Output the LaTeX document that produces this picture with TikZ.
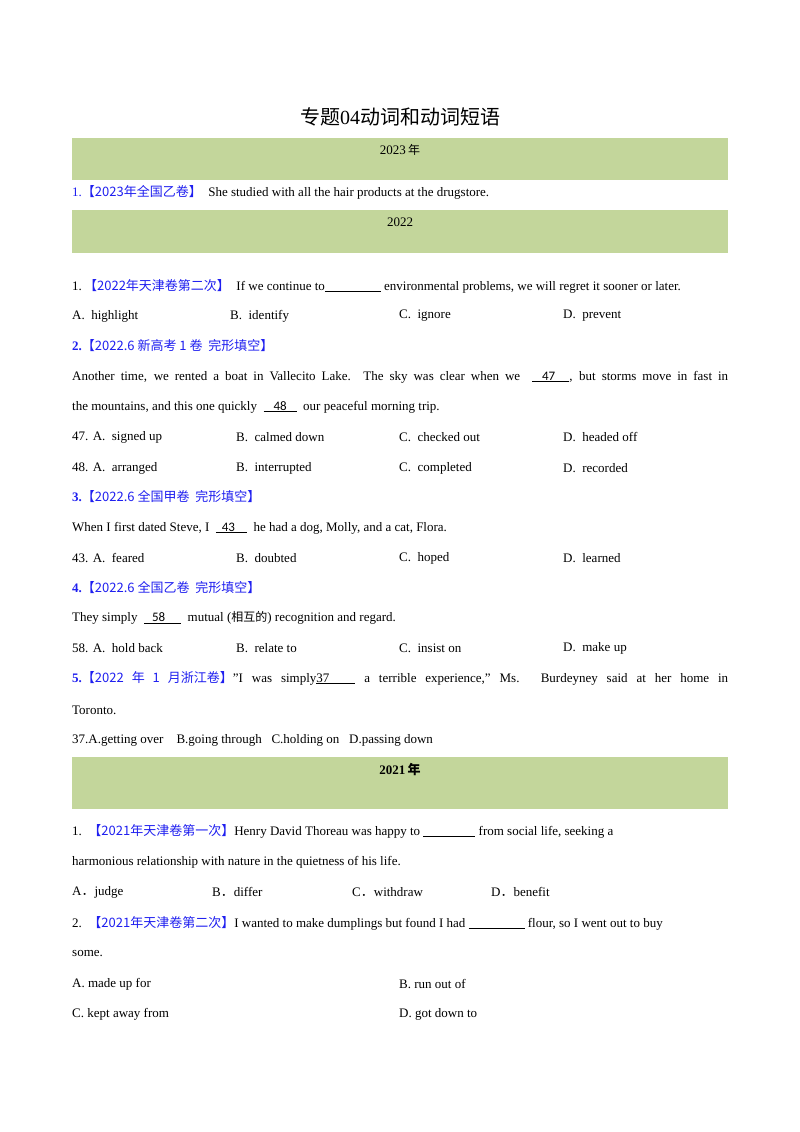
\documentclass[tikz,border=0pt]{standalone}
\usepackage{fontspec}
\setmainfont{Liberation Serif}
\newfontfamily\cjk{Noto Sans CJK SC}
\newfontfamily\calfont{Carlito}
\definecolor{bar}{HTML}{C3D69B}
\definecolor{qb}{HTML}{1F1FF0}
\newcommand{\bl}[1]{{\color{qb}#1}}
\newcommand{\ul}[1]{\underline{#1}}
\begin{document}
\begin{tikzpicture}[x=1pt,y=-1pt,
  t/.style={anchor=west,inner sep=0pt,font=\fontsize{13}{15}\selectfont},
  c/.style={inner sep=0pt,font=\fontsize{13}{15}\selectfont}]
\useasboundingbox (0,0) rectangle (800,1132);
\fill[white] (0,0) rectangle (800,1132);
\fill[bar] (72,138) rectangle (728,180);
\fill[bar] (72,210) rectangle (728,253);
\fill[bar] (72,757) rectangle (728,809);
\node[inner sep=0pt,font=\fontsize{20}{22}\selectfont] (title) at (400,117) {\cjk 专题\rmfamily 04\cjk 动词和动词短语};
\node[c] (y23) at (400,150) {2023\,\cjk\fontsize{12}{14}\selectfont 年};
\node[t] (q1) at (72,192) {\bl{1.\cjk【2023年全国乙卷】}\ \ She studied with all the hair products at the drugstore.};
\node[c] (y22) at (400,222) {2022};
\node[t] (a1) at (72,286) {1.\,{\cjk\bl{【2022年天津卷第二次】}}\ \ If we continue to\ul{\hspace{56pt}} environmental problems, we will regret it sooner or later.};
\node[t] (a1a) at (72,316) {A.\ \ highlight};
\node[t] (a1b) at (230,316) {B.\ \ identify};
\node[t] (a1c) at (399,316) {C.\ \ ignore};
\node[t] (a1d) at (563,316) {D.\ \ prevent};
\node[t] (a2) at (72,346) {\bl{\textbf{2.}\cjk【2022.6 新高考 1 卷\ \ 完形填空】}};
\node[t] (a2t) at (72,377) {\hbox to 656pt{Another time, we rented a boat in Vallecito Lake. The sky was clear when we \ \ul{\hspace{10pt}{\calfont 47}\hspace{14pt}}, but storms move in fast in}};
\node[t] (a2u) at (72,407) {the mountains, and this one quickly \ \ul{\hspace{10pt}{\calfont 48}\hspace{10pt}}\ \ our peaceful morning trip.};
\begin{scope}[every node/.append style={font=\calfont\fontsize{13}{15}\selectfont}]
\node[t] (o47a) at (72,437) {47. A.\ \ signed up};
\node[t] (o47b) at (236,437) {B.\ \ calmed down};
\node[t] (o47c) at (399,437) {C.\ \ checked out};
\node[t] (o47d) at (563,437) {D.\ \ headed off};
\node[t] (o48a) at (72,468) {48. A.\ \ arranged};
\node[t] (o48b) at (236,468) {B.\ \ interrupted};
\node[t] (o48c) at (399,468) {C.\ \ completed};
\node[t] (o48d) at (563,468) {D.\ \ recorded};
\end{scope}
\node[t] (a3) at (72,497) {\bl{\textbf{3.}\cjk【2022.6 全国甲卷\ \ 完形填空】}};
\node[t] (a3t) at (72,528) {When I first dated Steve, I \ \ul{\hspace{6pt}{\calfont 43}\hspace{12pt}}\ \ he had a dog, Molly, and a cat, Flora.};
\begin{scope}[every node/.append style={font=\calfont\fontsize{13}{15}\selectfont}]
\node[t] (o43a) at (72,558) {43. A.\ \ feared};
\node[t] (o43b) at (236,558) {B.\ \ doubted};
\node[t] (o43c) at (399,558) {C.\ \ hoped};
\node[t] (o43d) at (563,558) {D.\ \ learned};
\end{scope}
\node[t] (a4) at (72,588) {\bl{\textbf{4.}\cjk【2022.6 全国乙卷\ \ 完形填空】}};
\node[t] (a4t) at (72,618) {They simply \ \ul{\hspace{8pt}{\calfont 58}\hspace{16pt}}\ \ mutual ({\cjk\fontsize{12}{14}\selectfont 相互的}) recognition and regard.};
\begin{scope}[every node/.append style={font=\calfont\fontsize{13}{15}\selectfont}]
\node[t] (o58a) at (72,648) {58. A.\ \ hold back};
\node[t] (o58b) at (236,648) {B.\ \ relate to};
\node[t] (o58c) at (399,648) {C.\ \ insist on};
\node[t] (o58d) at (563,648) {D.\ \ make up};
\end{scope}
\node[t] (a5) at (72,678) {\hbox to 656pt{\bl{\textbf{5.}\cjk【2022 年 1 月浙江卷】}"I was simply\ul{37\hspace{26pt}} a terrible experience," Ms. Burdeyney said at her home in}};
\node[t] (a5u) at (72,710) {Toronto.};
\node[t] (o37) at (72,740) {37.A.getting over\ \ \ \ B.going through\ \ \ C.holding on\ \ \ D.passing down};
\node[c] (y21) at (400,770) {\textbf{2021}\,{\cjk\bfseries\fontsize{13}{15}\selectfont 年}};
\node[t] (b1) at (72,831) {1.\ \ {\cjk\bl{【2021年天津卷第一次】}}Henry David Thoreau was happy to \ul{\hspace{52pt}} from social life, seeking a};
\node[t] (b1u) at (72,862) {harmonious relationship with nature in the quietness of his life.};
\node[t] (b1a) at (72,892) {A{\cjk ．}judge};
\node[t] (b1b) at (212,892) {B{\cjk ．}differ};
\node[t] (b1c) at (352,892) {C{\cjk ．}withdraw};
\node[t] (b1d) at (491,892) {D{\cjk ．}benefit};
\node[t] (b2) at (72,923) {2.\ \ {\cjk\bl{【2021年天津卷第二次】}}I wanted to make dumplings but found I had \ul{\hspace{56pt}} flour, so I went out to buy};
\node[t] (b2u) at (72,954) {some.};
\node[t] (b2a) at (72,984) {A. made up for};
\node[t] (b2b) at (399,984) {B. run out of};
\node[t] (b2c) at (72,1014) {C. kept away from};
\node[t] (b2d) at (399,1014) {D. got down to};
\end{tikzpicture}
\end{document}
